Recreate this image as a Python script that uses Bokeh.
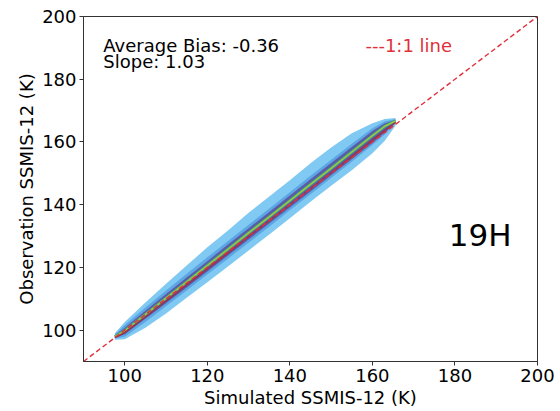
from bokeh.plotting import figure
from bokeh.models import FixedTicker, Range1d
from bokeh.core.properties import value
from bokeh.embed import file_html
from bokeh.resources import INLINE

# ---- data ----
x_ticks = [100, 120, 140, 160, 180, 200]
y_ticks = [100, 120, 140, 160, 180, 200]
one_to_one = [90, 200]

sim = [97.6, 100, 105, 110, 115, 120, 125, 130, 135, 140, 145, 150, 155, 160, 163, 165.6]
# light-blue outer envelope of the point cloud
outer_hi = [99.0, 102.6, 108.8, 114.8, 120.6, 126.4, 131.8, 137.4, 142.6, 147.8, 153.2, 158.2, 162.8, 166.0, 167.3, 167.6]
outer_lo = [96.9, 97.1, 100.8, 105.3, 110.3, 115.3, 120.3, 125.4, 130.5, 135.7, 140.9, 146.0, 151.0, 156.4, 160.4, 165.2]
# medium-blue band
mid_hi = [98.6, 101.6, 107.2, 112.6, 118.0, 123.2, 128.4, 133.6, 138.8, 144.0, 149.2, 154.3, 159.4, 164.4, 166.6, 167.2]
mid_lo = [97.3, 97.9, 102.6, 107.6, 112.6, 117.7, 122.8, 127.9, 133.0, 138.2, 143.3, 148.5, 153.7, 159.0, 162.4, 165.9]
# dense indigo core
core_hi = [98.3, 100.8, 106.2, 111.5, 116.8, 122.0, 127.3, 132.5, 137.7, 142.9, 148.1, 153.3, 158.4, 163.5, 166.0, 167.0]
core_lo = [97.5, 98.7, 103.6, 108.6, 113.6, 118.7, 123.8, 128.9, 134.0, 139.1, 144.2, 149.4, 154.5, 159.7, 163.0, 166.1]
# ridge of highest density
ridge = [97.9, 99.8, 105.0, 110.2, 115.4, 120.6, 125.8, 131.0, 136.1, 141.3, 146.5, 151.6, 156.8, 162.0, 165.0, 166.7]
ridge_low = [97.6, 99.2, 104.2, 109.3, 114.4, 119.5, 124.6, 129.8, 134.9, 140.0, 145.1, 150.2, 155.4, 160.6, 163.7, 166.2]

bias_text = "Average Bias: -0.36"
slope_text = "Slope: 1.03"
line_text = "---1:1 line"
channel_text = "19H"

FONT = "DejaVu Sans"

p = figure(width=560, height=411, output_backend="svg", toolbar_location=None,
           x_range=Range1d(90, 200), y_range=Range1d(90, 200),
           min_border_left=83, min_border_right=23, min_border_top=16, min_border_bottom=50)

p.xgrid.visible = False
p.ygrid.visible = False
p.background_fill_color = "white"
p.border_fill_color = "white"
p.outline_line_color = "#333333"
p.outline_line_width = 1

# point-cloud density layers
p.varea(x=sim, y1=outer_lo, y2=outer_hi, fill_color="#80c9f3", fill_alpha=1.0)
p.varea(x=sim, y1=mid_lo, y2=mid_hi, fill_color="#5ca6e4", fill_alpha=1.0)
p.varea(x=sim, y1=core_lo, y2=core_hi, fill_color="#5b5ba8", fill_alpha=1.0)
p.line(x=sim, y=ridge, line_color="#3b9f8c", line_width=3.0)
p.line(x=sim, y=ridge, line_color="#9cc83f", line_width=1.5)
p.line(x=sim, y=ridge_low, line_color="#9a2f4a", line_width=1.4)

# 1:1 line
p.line(x=one_to_one, y=one_to_one, line_color="#e0303a", line_width=1.4, line_dash="5 3")

# annotations
p.text(x=[94.8], y=[190.8], text=[bias_text], text_font=value(FONT), text_font_size="18px",
       text_color="black", text_baseline="alphabetic", text_align="left")
p.text(x=[94.8], y=[185.7], text=[slope_text], text_font=value(FONT), text_font_size="18px",
       text_color="black", text_baseline="alphabetic", text_align="left")
p.text(x=[158.3], y=[190.8], text=[line_text], text_font=value(FONT), text_font_size="18px",
       text_color="#e0303a", text_baseline="alphabetic", text_align="left")
p.text(x=[178.5], y=[130.2], text=[channel_text], text_font=value(FONT), text_font_size="31px",
       text_color="black", text_baseline="alphabetic", text_align="left")

for ax, ticks in ((p.xaxis[0], x_ticks), (p.yaxis[0], y_ticks)):
    ax.ticker = FixedTicker(ticks=ticks)
    ax.minor_tick_line_color = None
    ax.major_tick_in = 0
    ax.major_tick_out = 4
    ax.major_tick_line_color = "#333333"
    ax.axis_line_color = "#333333"
    ax.major_label_text_font = FONT
    ax.major_label_text_font_size = "18px"
    ax.major_label_text_color = "black"
    ax.axis_label_text_font = FONT
    ax.axis_label_text_font_size = "18px"
    ax.axis_label_text_font_style = "normal"
    ax.axis_label_text_color = "black"
    ax.major_label_standoff = 3
    ax.axis_label_standoff = 2

p.xaxis.axis_label = "Simulated SSMIS-12 (K)"
p.yaxis.axis_label = "Observation SSMIS-12 (K)"

open("out.html", "w").write(file_html(p, INLINE))
